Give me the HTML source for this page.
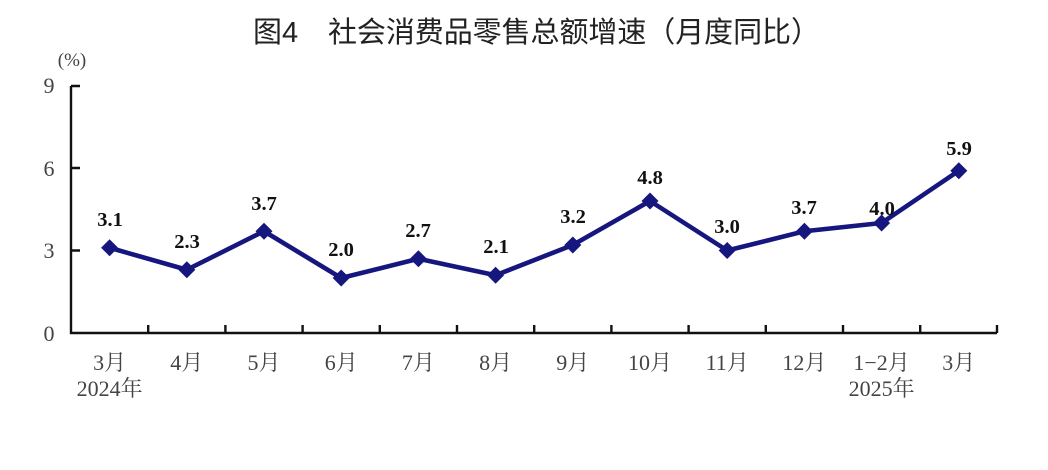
<!DOCTYPE html>
<html><head><meta charset="utf-8"><style>
html,body{margin:0;padding:0;background:#fff;}
svg{display:block;}
</style></head><body>
<svg width="1048" height="470" viewBox="0 0 1048 470" xmlns="http://www.w3.org/2000/svg">
<rect width="1048" height="470" fill="#fff"/>
<g font-family="'Liberation Sans','Noto Sans CJK SC',sans-serif" font-size="29" fill="#222">
<text x="253" y="42">图4</text>
<text x="328" y="42" textLength="492" lengthAdjust="spacing">社会消费品零售总额增速（月度同比）</text>
</g>
<text x="72" y="66" text-anchor="middle" font-family="'Liberation Serif','Noto Serif CJK SC',serif" font-size="19" fill="#444">(%)</text>
<g font-family="'Liberation Serif','Noto Serif CJK SC',serif" font-size="22" fill="#444" text-anchor="middle">
<text x="49" y="93">9</text>
<text x="49" y="176">6</text>
<text x="49" y="258">3</text>
<text x="49" y="341">0</text>
</g>
<g stroke="#111" stroke-width="2.4" fill="none">
<path d="M71 86 V333 H997"/>
<path d="M71 86 H80 M71 168 H80 M71 250.5 H80"/>
<path d="M148.2 333 V325 M225.4 333 V325 M302.6 333 V325 M379.8 333 V325 M457 333 V325 M534.2 333 V325 M611.4 333 V325 M688.6 333 V325 M765.8 333 V325 M843 333 V325 M920.2 333 V325 M997 333 V325"/>
</g>
<g font-family="'Liberation Serif','Noto Serif CJK SC',serif" font-size="22" fill="#444" text-anchor="middle">
<text x="109.6" y="370">3月</text>
<text x="109.6" y="396">2024年</text>
<text x="186.8" y="370">4月</text>
<text x="264" y="370">5月</text>
<text x="341.2" y="370">6月</text>
<text x="418.4" y="370">7月</text>
<text x="495.6" y="370">8月</text>
<text x="572.8" y="370">9月</text>
<text x="650" y="370">10月</text>
<text x="727.2" y="370">11月</text>
<text x="804.4" y="370">12月</text>
<text x="881.6" y="370">1−2月</text>
<text x="881.6" y="396">2025年</text>
<text x="958.8" y="370">3月</text>
</g>
<polyline fill="none" stroke="#16167f" stroke-width="4.6" stroke-linejoin="round" points="109.6,247.75 186.8,269.75 264,231.25 341.2,278 418.4,258.75 495.6,275.25 572.8,245 650,201 727.2,250.5 804.4,231.25 881.6,223 958.8,170.75"/>
<g fill="#16167f">
<path d="M109.6 239.25 l8.5 8.5 l-8.5 8.5 l-8.5 -8.5z"/>
<path d="M186.8 261.25 l8.5 8.5 l-8.5 8.5 l-8.5 -8.5z"/>
<path d="M264 222.75 l8.5 8.5 l-8.5 8.5 l-8.5 -8.5z"/>
<path d="M341.2 269.5 l8.5 8.5 l-8.5 8.5 l-8.5 -8.5z"/>
<path d="M418.4 250.25 l8.5 8.5 l-8.5 8.5 l-8.5 -8.5z"/>
<path d="M495.6 266.75 l8.5 8.5 l-8.5 8.5 l-8.5 -8.5z"/>
<path d="M572.8 236.5 l8.5 8.5 l-8.5 8.5 l-8.5 -8.5z"/>
<path d="M650 192.5 l8.5 8.5 l-8.5 8.5 l-8.5 -8.5z"/>
<path d="M727.2 242 l8.5 8.5 l-8.5 8.5 l-8.5 -8.5z"/>
<path d="M804.4 222.75 l8.5 8.5 l-8.5 8.5 l-8.5 -8.5z"/>
<path d="M881.6 214.5 l8.5 8.5 l-8.5 8.5 l-8.5 -8.5z"/>
<path d="M958.8 162.25 l8.5 8.5 l-8.5 8.5 l-8.5 -8.5z"/>
</g>
<g font-family="'Liberation Serif',serif" font-size="20.5" font-weight="bold" fill="#111" text-anchor="middle">
<text x="110" y="226">3.1</text>
<text x="187" y="248">2.3</text>
<text x="264" y="210">3.7</text>
<text x="341" y="256">2.0</text>
<text x="418" y="237">2.7</text>
<text x="496" y="253">2.1</text>
<text x="573" y="223">3.2</text>
<text x="650" y="184">4.8</text>
<text x="727" y="233">3.0</text>
<text x="804" y="214">3.7</text>
<text x="882" y="215">4.0</text>
<text x="959" y="155">5.9</text>
</g>
</svg>
</body></html>
